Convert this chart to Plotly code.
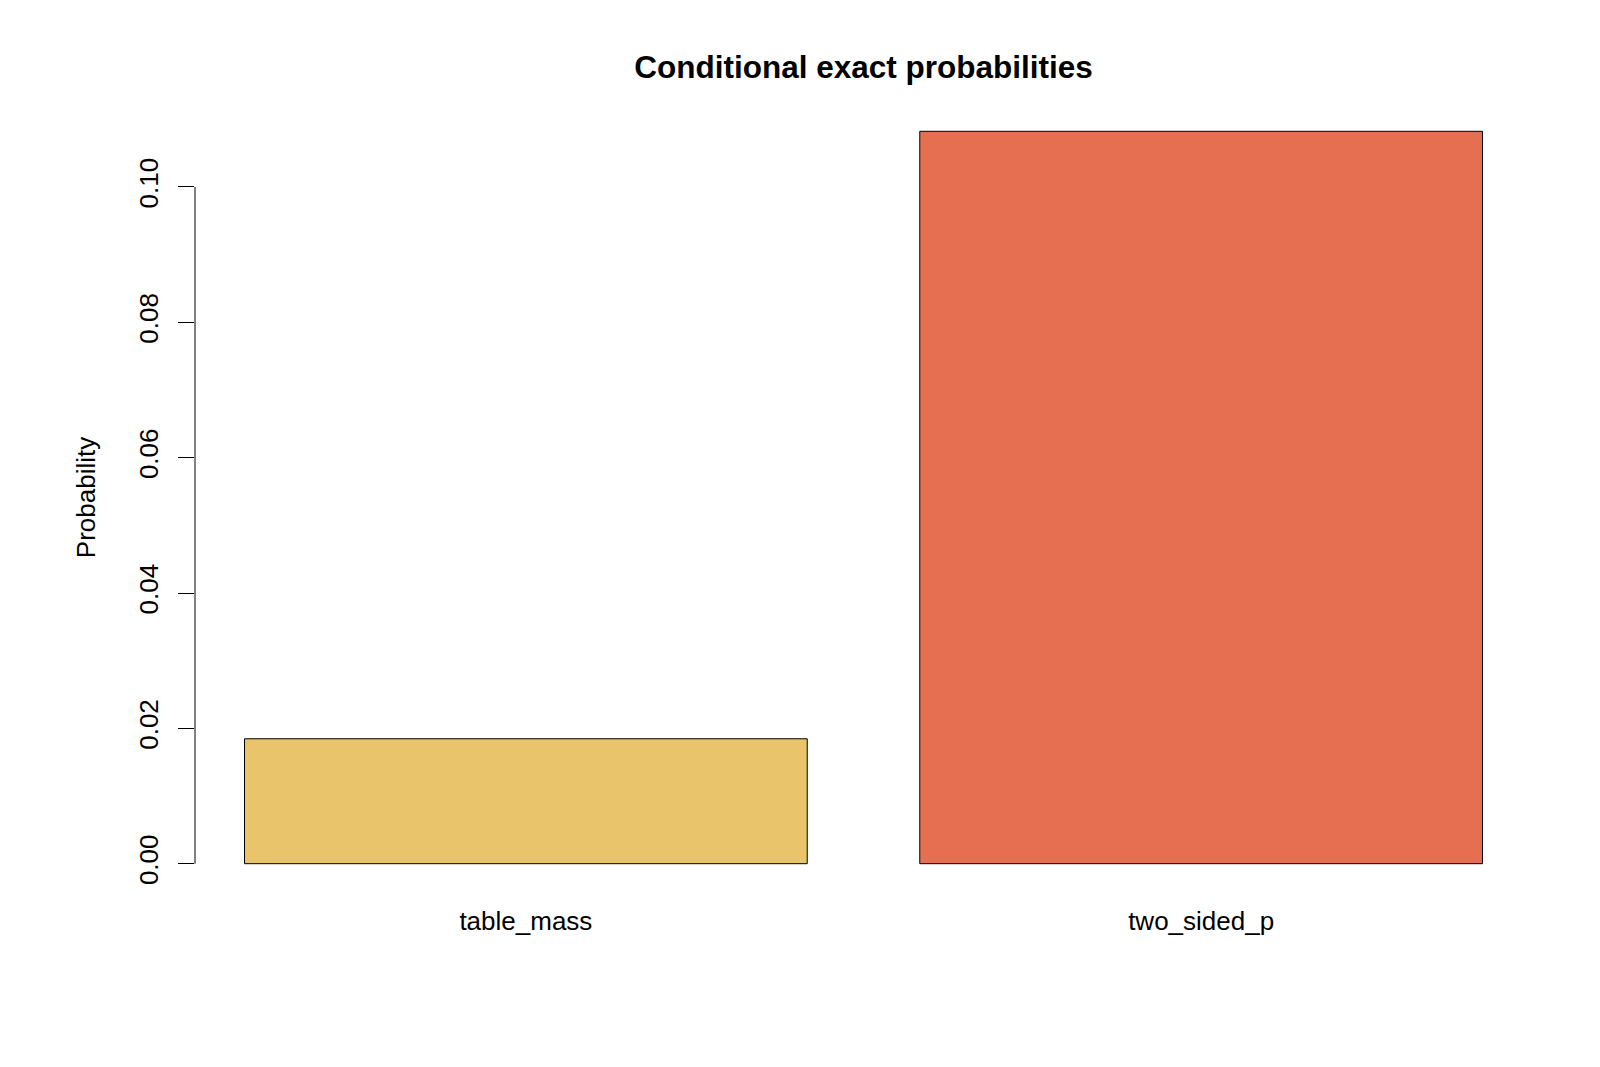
import plotly.graph_objects as go

categories = ["table_mass", "two_sided_p"]
values = [0.01846, 0.10823]
colors = ["#E9C46A", "#E76F51"]
bar_centers = [0.7, 1.9]
y_ticks = [0.00, 0.02, 0.04, 0.06, 0.08, 0.10]
y_tick_labels = ["0.00", "0.02", "0.04", "0.06", "0.08", "0.10"]

FONT = "Liberation Sans, Arial, sans-serif"

fig = go.Figure()
fig.add_trace(go.Bar(
    x=bar_centers, y=values, width=1.0,
    marker=dict(color=colors, line=dict(color="black", width=1)),
    hoverinfo="skip", showlegend=False,
))

ymax = max(values)
pad = 0.04 * ymax
fig.update_layout(
    width=1600, height=1067,
    margin=dict(l=195, r=68, t=102, b=174),
    paper_bgcolor="white", plot_bgcolor="white",
    font=dict(family=FONT, size=26, color="black"),
    title=dict(text="<b>Conditional exact probabilities</b>", x=0.5, xref="paper",
               y=1 - 67 / 1067, yref="container", xanchor="center", yanchor="middle",
               font=dict(size=31.5, family=FONT, color="black")),
    xaxis=dict(range=[0.112, 2.488], tickvals=bar_centers, ticktext=categories,
               showgrid=False, zeroline=False, showline=False, ticks="",
               ticklabelstandoff=10, tickfont=dict(size=26)),
    yaxis=dict(range=[-pad, ymax + pad], tickvals=y_ticks, ticktext=y_tick_labels,
               tickangle=-90, showgrid=False, zeroline=False, showline=False,
               ticks="outside", ticklen=16, tickwidth=1, tickcolor="black",
               ticklabelstandoff=10, tickfont=dict(size=26)),
    shapes=[dict(type="line", xref="paper", x0=0, x1=0, yref="y",
                 y0=y_ticks[0], y1=y_ticks[-1], line=dict(color="black", width=1))],
    annotations=[dict(text="Probability", textangle=-90, xref="paper", yref="paper",
                      x=(85.7 - 195) / (1600 - 195 - 68), y=0.5, xanchor="center",
                      yanchor="middle", showarrow=False, font=dict(size=26))],
)

fig.write_html("out.html")
